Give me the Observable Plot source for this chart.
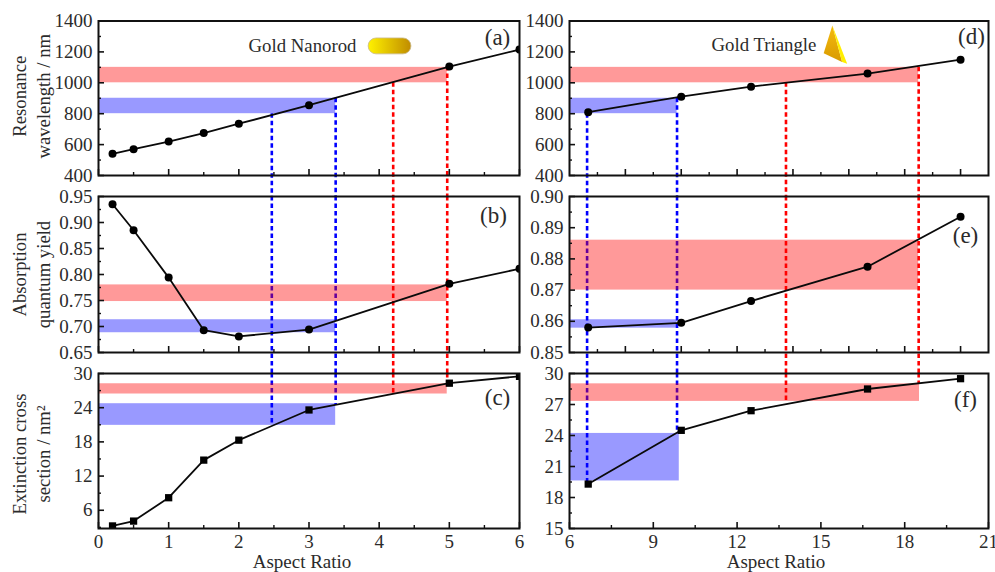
<!DOCTYPE html>
<html>
<head>
<meta charset="utf-8">
<script src="https://cdn.jsdelivr.net/npm/d3@7"></script>
<script src="https://cdn.jsdelivr.net/npm/@observablehq/plot@0.6"></script>
<style>
html,body{margin:0;padding:0;background:#fff}
#fig{position:relative;width:995px;height:572px;overflow:hidden}
#fig svg{position:absolute;left:0;top:0}
</style>
</head>
<body>
<div id="fig"></div>
<script>
// Nanorod data
const rodAspect = [0.2, 0.5, 1, 1.5, 2, 3, 5, 6];
const rodWavelength = [540, 570, 620, 675, 735, 855, 1105, 1215];
const rodYield = [0.935, 0.885, 0.794, 0.693, 0.681, 0.694, 0.782, 0.811];
const rodExtinction = [3.25, 4.1, 8.2, 14.8, 18.3, 23.6, 28.3, 29.5];
// Triangle data
const triAspect = [6.67, 10, 12.5, 16.67, 20];
const triWavelength = [810, 910, 975, 1060, 1150];
const triYield = [0.858, 0.8595, 0.8665, 0.8775, 0.8935];
const triExtinction = [19.3, 24.5, 26.4, 28.5, 29.5];
// Highlight bands: [low, high]
const bandA = {red: [1000, 1100], blue: [800, 900]};
const bandB = {red: [0.748, 0.78], blue: [0.688, 0.713]};
const bandC = {red: [26.4, 28.2], blue: [20.9, 24.7]};
const bandD = {red: [1000, 1100], blue: [800, 900]};
const bandE = {red: [0.87, 0.886], blue: [0.8578, 0.8605]};
const bandF = {red: [27.3, 29], blue: [19.6, 24.2]};
const rodBandEnd = {red: 4.97, blue: 3.38};
const triBandEnd = {red: 18.5, blue: 9.85};
const triBandEndF = {red: 18.53, blue: 9.93};
// Dashed guides
const rodGuides = [2.47, 3.38, 4.2, 4.97];
const triGuides = [6.63, 9.85, 13.75, 18.5];
const guideColors = ["#0000ff", "#0000ff", "#ff0000", "#ff0000"];
const guideStartA = [800, 900, 1000, 1105];
const guideEndC = [21, 24.5, 26.5, 28.3];
const guideStartD = [800, 900, 1000, 1100];
const guideEndF = [19.5, 24.5, 27.1, 29];
// Ticks
const rodXMajor = [0, 1, 2, 3, 4, 5, 6];
const rodXMinor = [0.5, 1.5, 2.5, 3.5, 4.5, 5.5];
const triXMajorTop = [8, 10, 12, 14, 16, 18, 20];
const triXMinorTop = [7, 9, 11, 13, 15, 17, 19];
const triXMajor = [6, 9, 12, 15, 18, 21];
const triXMinor = [7.5, 10.5, 13.5, 16.5, 19.5];
const wlMajor = [400, 600, 800, 1000, 1200, 1400];
const wlMinor = [500, 700, 900, 1100, 1300];
const yieldRodMajor = [0.65, 0.70, 0.75, 0.80, 0.85, 0.90, 0.95];
const yieldRodMinor = [0.675, 0.725, 0.775, 0.825, 0.875, 0.925];
const extRodMajor = [6, 12, 18, 24, 30];
const extRodMinor = [3, 9, 15, 21, 27];
const yieldTriMajor = [0.85, 0.86, 0.87, 0.88, 0.89, 0.90];
const yieldTriMinor = [0.855, 0.865, 0.875, 0.885, 0.895];
const extTriMajor = [15, 18, 21, 24, 27, 30];
const extTriMinor = [16.5, 19.5, 22.5, 25.5, 28.5];
// Decorations
const rodShape = [{x1: 3.85, x2: 4.46, y1: 1184, y2: 1287}];
const triFace = [{x: 15.41, y: 1371}, {x: 15.1, y: 1192}, {x: 15.76, y: 1134}];
const triEdge = [{x: 15.41, y: 1371}, {x: 15.94, y: 1124}, {x: 15.76, y: 1134}];

const FONT = "'Liberation Serif','Times New Roman',serif";
const INK = "#2b2b2b";
const fig = document.getElementById("fig");

function gradientDefs() {
  return () => {
    const defs = d3.create("svg:defs");
    const g = defs.append("linearGradient").attr("id", "rodFill");
    g.append("stop").attr("offset", "0%").attr("stop-color", "#fff200");
    g.append("stop").attr("offset", "100%").attr("stop-color", "#c08c00");
    const t = defs.append("linearGradient").attr("id", "triFill")
      .attr("x1", "0").attr("y1", "0").attr("x2", "0").attr("y2", "1");
    t.append("stop").attr("offset", "0%").attr("stop-color", "#f5bb10");
    t.append("stop").attr("offset", "100%").attr("stop-color", "#d89a00");
    return defs.node();
  };
}

function panel(o) {
  const {left, right, top, bottom, xd, yd, xs, ys, band, bandEnd, guides, colors, y1s, y2s,
         square, tag, tagX, tagY, label, labelX, labelDy = 0, xLabelDx = 0, xMajor, xMinor, yMajor, yMinor, yFmt, showX, extra, clip} = o;
  const x0 = xd[0];
  const rects = ["red", "blue"].map(k => ({
    x1: x0, x2: bandEnd[k], y1: band[k][0], y2: band[k][1],
    fill: k === "red" ? "#ff0000" : "#0000ff"
  }));
  const guideData = guides.map((g, i) => ({x: g, y1: y1s[i], y2: y2s[i], c: colors[i]}));
  const rows = xs.map((x, i) => ({x, y: ys[i]}));
  const marks = [
    gradientDefs(),
    Plot.ruleX(guideData, {x: "x", y1: "y1", y2: "y2", stroke: "c", strokeWidth: 2.6, strokeDasharray: "4.5,3"}),
    Plot.rect(rects, {x1: "x1", x2: "x2", y1: "y1", y2: "y2", fill: "fill", fillOpacity: 0.4}),
    ...(extra || []),
    Plot.line(rows, {x: "x", y: "y", stroke: "#0a0a0a", strokeWidth: 1.8, clip}),
    Plot.dot(rows, square
      ? {x: "x", y: "y", symbol: "square", r: 4.1, fill: "#000", stroke: "none", clip}
      : {x: "x", y: "y", r: 4, fill: "#000", stroke: "none", clip}),
    Plot.axisY(yMajor, {anchor: "left", tickSize: -6, tickPadding: 12, tickFormat: yFmt, label: null, stroke: "#111", strokeWidth: 1.6, fill: INK}),
    Plot.axisY(yMinor, {anchor: "left", tickSize: -3, fill: "none", label: null, stroke: "#111", strokeWidth: 1.4}),
    Plot.axisX(xMajor, showX
      ? {anchor: "bottom", tickSize: -6, tickPadding: 12, tickFormat: d => String(d), label: null, stroke: "#111", strokeWidth: 1.6, fill: INK}
      : {anchor: "bottom", tickSize: -6, fill: "none", label: null, stroke: "#111", strokeWidth: 1.6}),
    Plot.axisX(xMinor, {anchor: "bottom", tickSize: -3, fill: "none", label: null, stroke: "#111", strokeWidth: 1.4}),
    Plot.text([tag], {text: d => d, frameAnchor: "top-left", dx: tagX - left, dy: tagY - top, fontSize: 23, textAnchor: "middle", lineAnchor: "middle", fill: INK}),
    ...(label ? [Plot.text([label], {text: d => d, frameAnchor: "left", dx: labelX - left, dy: labelDy, rotate: -90, fontSize: 18.7, lineHeight: 1.27, textAnchor: "middle", fill: INK})] : []),
    ...(showX ? [Plot.text(["Aspect Ratio"], {text: d => d, frameAnchor: "bottom", dx: xLabelDx, dy: 33, fontSize: 19, lineAnchor: "middle", fill: INK})] : []),
    Plot.frame({stroke: "#111", strokeWidth: 2})
  ];
  const svg = Plot.plot({
    width: 995, height: 572,
    marginLeft: left, marginRight: 995 - right, marginTop: top, marginBottom: 572 - bottom,
    style: {fontFamily: FONT, fontSize: "19px", background: "transparent", overflow: "visible"},
    x: {domain: xd, axis: null}, y: {domain: yd, axis: null},
    marks
  });
  fig.appendChild(svg);
}

const L = {left: 98, right: 519}, R = {left: 569, right: 988};
const T1 = {top: 20.5, bottom: 175}, T2 = {top: 196, bottom: 352}, T3 = {top: 373, bottom: 528};
const below = (yd, t, px) => yd[0] - (yd[1] - yd[0]) / (t.bottom - t.top) * px;
const f0 = d => String(d), f2 = d => d.toFixed(2);

const yA = [400, 1400], yB = [0.65, 0.95], yC = [2.8, 30], yE = [0.85, 0.90], yF = [15, 30];

panel({...L, ...T1, xd: [0, 6], yd: yA, xs: rodAspect, ys: rodWavelength, band: bandA, bandEnd: rodBandEnd,
  guides: rodGuides, colors: guideColors, y1s: guideStartA, y2s: rodGuides.map(() => below(yA, T1, 21)),
  tag: "(a)", tagX: 497, tagY: 37, label: "Resonance\nwavelength / nm", labelX: 30, labelDy: -2, clip: true,
  xMajor: rodXMajor, xMinor: rodXMinor, yMajor: wlMajor, yMinor: wlMinor, yFmt: f0, showX: false,
  extra: [
    Plot.text(["Gold Nanorod"], {text: d => d, frameAnchor: "top-left", dx: 248 - L.left, dy: 45 - T1.top, textAnchor: "start", lineAnchor: "middle", fontSize: 18.8, fill: INK}),
    Plot.rect(rodShape, {x1: "x1", x2: "x2", y1: "y1", y2: "y2", rx: 8, fill: "url(#rodFill)", stroke: "#c9b98a", strokeWidth: 0.8})
  ]});

panel({...L, ...T2, xd: [0, 6], yd: yB, xs: rodAspect, ys: rodYield, band: bandB, bandEnd: rodBandEnd,
  guides: rodGuides, colors: guideColors, y1s: rodGuides.map(() => yB[1]), y2s: rodGuides.map(() => below(yB, T2, 21)),
  tag: "(b)", tagX: 493, tagY: 215, label: "Absorption\nquantum yield", labelX: 30, clip: true,
  xMajor: rodXMajor, xMinor: rodXMinor, yMajor: yieldRodMajor, yMinor: yieldRodMinor, yFmt: f2, showX: false});

panel({...L, ...T3, xd: [0, 6], yd: yC, xs: rodAspect, ys: rodExtinction, band: bandC, bandEnd: rodBandEnd,
  guides: rodGuides, colors: guideColors, y1s: rodGuides.map(() => yC[1]), y2s: guideEndC, square: true,
  tag: "(c)", tagX: 497, tagY: 397, label: "Extinction cross\nsection / nm²", labelX: 30, labelDy: 3, clip: true, xLabelDx: -7,
  xMajor: rodXMajor, xMinor: rodXMinor, yMajor: extRodMajor, yMinor: extRodMinor, yFmt: f0, showX: true});

panel({...R, ...T1, xd: [6, 21], yd: yA, xs: triAspect, ys: triWavelength, band: bandD, bandEnd: triBandEnd,
  guides: triGuides, colors: guideColors, y1s: guideStartD, y2s: triGuides.map(() => below(yA, T1, 21)),
  tag: "(d)", tagX: 971, tagY: 36, label: "", labelX: 32,
  xMajor: triXMajorTop, xMinor: triXMinorTop, yMajor: wlMajor, yMinor: wlMinor, yFmt: f0, showX: false,
  extra: [
    Plot.text(["Gold Triangle"], {text: d => d, frameAnchor: "top-left", dx: 711 - R.left, dy: 44 - T1.top, textAnchor: "start", lineAnchor: "middle", fontSize: 18.8, fill: INK}),
    Plot.line(triFace, {x: "x", y: "y", fill: "url(#triFill)", stroke: "none"}),
    Plot.line(triEdge, {x: "x", y: "y", fill: "#ffee00", stroke: "none"})
  ]});

panel({...R, ...T2, xd: [6, 21], yd: yE, xs: triAspect, ys: triYield, band: bandE, bandEnd: triBandEnd,
  guides: triGuides, colors: guideColors, y1s: triGuides.map(() => yE[1]), y2s: triGuides.map(() => below(yE, T2, 21)),
  tag: "(e)", tagX: 965, tagY: 235, label: "", labelX: 32,
  xMajor: triXMajorTop, xMinor: triXMinorTop, yMajor: yieldTriMajor, yMinor: yieldTriMinor, yFmt: f2, showX: false});

panel({...R, ...T3, xd: [6, 21], yd: yF, xs: triAspect, ys: triExtinction, band: bandF, bandEnd: triBandEndF,
  guides: triGuides, colors: guideColors, y1s: triGuides.map(() => yF[1]), y2s: guideEndF, square: true,
  tag: "(f)", tagX: 965, tagY: 399, label: "", labelX: 32, xLabelDx: -3,
  xMajor: triXMajor, xMinor: triXMinor, yMajor: extTriMajor, yMinor: extTriMinor, yFmt: f0, showX: true});
</script>
</body>
</html>
